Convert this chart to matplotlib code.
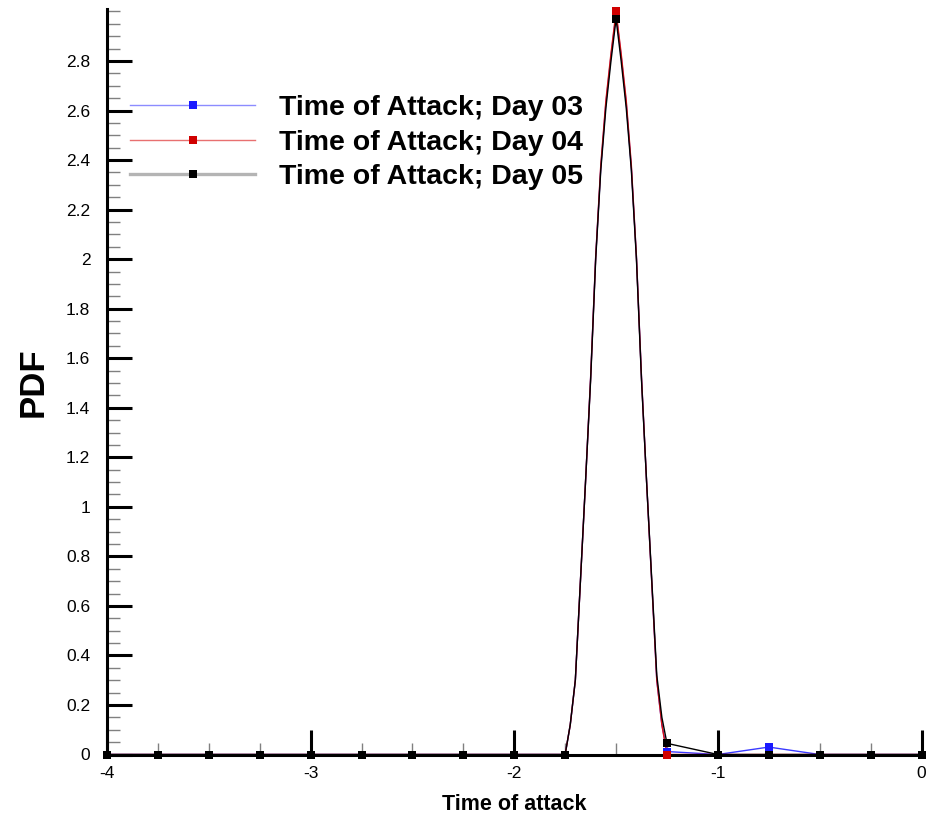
"""PDF of time of attack for days 03-05."""

import numpy as np
import matplotlib
matplotlib.use("Agg")
from matplotlib import pyplot as plt
from matplotlib.lines import Line2D
from matplotlib.ticker import FixedLocator, MultipleLocator, FormatStrFormatter

plt.rcParams["font.family"] = ["Liberation Sans", "DejaVu Sans"]
plt.rcParams["axes.unicode_minus"] = False

# sampled points (markers)
x_nodes = [-4.0, -3.75, -3.5, -3.25, -3.0, -2.75, -2.5, -2.25, -2.0,
           -1.75, -1.5, -1.25, -1.0, -0.75, -0.5, -0.25, 0.0]
day03_nodes = [0, 0, 0, 0, 0, 0, 0, 0, 0, 0, 2.99, 0.012, 0, 0.03, 0, 0, 0]
day04_nodes = [0, 0, 0, 0, 0, 0, 0, 0, 0, 0, 3.00, 0.0, 0, 0, 0, 0, 0]
day05_nodes = [0, 0, 0, 0, 0, 0, 0, 0, 0, 0, 2.97, 0.045, 0, 0, 0, 0, 0]

# curve shape around the peak
peak_x = [-1.75, -1.725, -1.70, -1.675, -1.65, -1.625, -1.60, -1.575, -1.55, -1.525, -1.50,
          -1.475, -1.45, -1.425, -1.40, -1.375, -1.35, -1.325, -1.30, -1.275, -1.25]
peak_day03 = [0, 0.12, 0.30, 0.70, 1.10, 1.52, 2.01, 2.37, 2.63, 2.82, 2.99,
              2.82, 2.63, 2.37, 2.01, 1.52, 1.10, 0.70, 0.30, 0.12, 0.012]
peak_day04 = [0, 0.12, 0.30, 0.70, 1.10, 1.52, 2.01, 2.38, 2.64, 2.83, 3.00,
              2.83, 2.64, 2.38, 2.01, 1.52, 1.10, 0.70, 0.30, 0.12, 0.0]
peak_day05 = [0, 0.12, 0.30, 0.70, 1.10, 1.51, 2.00, 2.36, 2.61, 2.80, 2.97,
              2.80, 2.61, 2.36, 2.00, 1.51, 1.10, 0.71, 0.32, 0.15, 0.045]

y_major_ticks = [0, 0.2, 0.4, 0.6, 0.8, 1.0, 1.2, 1.4, 1.6, 1.8, 2.0, 2.2, 2.4, 2.6, 2.8]

labels = ["Time of Attack; Day 03", "Time of Attack; Day 04", "Time of Attack; Day 05"]
line_colors = ["#3a3aff", "#e01010", "#000000"]
marker_colors = ["#1a1aff", "#d00000", "#000000"]
legend_line_colors = ["#8c8cff", "#e87070", "#b4b4b4"]
legend_line_widths = [1.0, 1.0, 2.4]


def merge_curve(nodes_y, peak_y):
    xn = np.asarray(x_nodes)
    yn = np.asarray(nodes_y, dtype=float)
    left = xn < peak_x[0]
    right = xn > peak_x[-1]
    x = np.concatenate([xn[left], peak_x, xn[right]])
    y = np.concatenate([yn[left], peak_y, yn[right]])
    return x, y


figure = plt.figure(figsize=(9.36, 8.14), dpi=100)
ax = figure.add_axes([107 / 936, 1 - 754.5 / 814, 814.5 / 936, 745.5 / 814])

series = [(day03_nodes, peak_day03), (day04_nodes, peak_day04), (day05_nodes, peak_day05)]
for i, (nodes_y, peak_y) in enumerate(series):
    x_line, y_line = merge_curve(nodes_y, peak_y)
    ax.plot(x_line, y_line, color=line_colors[i], linewidth=1.0, zorder=2 + i)
for i, (nodes_y, _) in enumerate(series):
    ax.plot(x_nodes, nodes_y, linestyle="none", marker="s", markersize=5.5,
            color=marker_colors[i], markeredgewidth=0, clip_on=False, zorder=6 + i)

ax.set_xlim(-4, 0)
ax.set_ylim(0, 3.01)

for side in ["top", "right"]:
    ax.spines[side].set_visible(False)
for side in ["left", "bottom"]:
    ax.spines[side].set_linewidth(2.2)
    ax.spines[side].set_zorder(5)

ax.xaxis.set_major_locator(MultipleLocator(1))
ax.xaxis.set_minor_locator(MultipleLocator(0.25))
ax.yaxis.set_major_locator(FixedLocator(y_major_ticks))
ax.yaxis.set_minor_locator(MultipleLocator(0.05))
ax.xaxis.set_major_formatter(FormatStrFormatter("%g"))
ax.yaxis.set_major_formatter(FormatStrFormatter("%g"))

ax.tick_params(which="major", direction="in", length=18, width=2.2, color="black",
               labelsize=12.5)
ax.tick_params(which="minor", direction="in", length=9, width=1.0, color="#808080")
ax.tick_params(axis="y", which="major", pad=12)
ax.tick_params(axis="x", which="major", pad=8)

ax.set_xlabel("Time of attack", fontsize=15.5, fontweight="bold", labelpad=10)
ax.set_ylabel("PDF", fontsize=25, fontweight="bold", labelpad=12)

handles = [
    Line2D([], [], color=legend_line_colors[i], linewidth=legend_line_widths[i],
           marker="s", markersize=5.5, markerfacecolor=marker_colors[i],
           markeredgewidth=0)
    for i in range(3)
]
figure.legend(handles, labels, loc="upper left", bbox_to_anchor=(130 / 936, 1 - 95 / 814),
              frameon=False, prop={"weight": "bold", "size": 20.5},
              handlelength=4.4, handletextpad=0.85, labelspacing=0.3,
              borderpad=0, borderaxespad=0, numpoints=1)

figure.savefig("out.png", dpi=100)
plt.close(figure)
